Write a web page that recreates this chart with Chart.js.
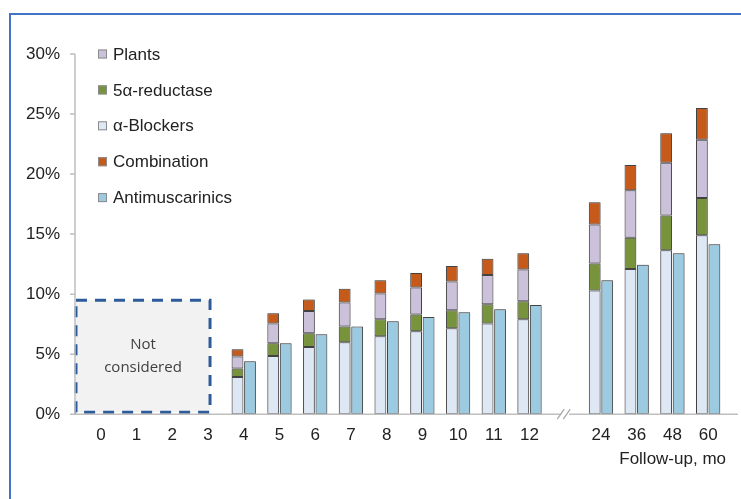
<!DOCTYPE html>
<html>
<head>
<meta charset="utf-8">
<script src="https://cdn.jsdelivr.net/npm/chart.js@4.4.1/dist/chart.umd.min.js"></script>
<style>
  body { margin: 0; background: #fff; overflow: hidden; }
  #frame { position: absolute; left: 9px; top: 13px; width: 800px; height: 600px;
           border-top: 2px solid #4472c4; border-left: 2px solid #4472c4; }
  #wrap { position: absolute; left: 0; top: 0; width: 741px; height: 499px; }
</style>
</head>
<body>
<div id="frame"></div>
<div id="wrap"><canvas id="chart"></canvas></div>
<script>
// follow-up months (empty slot = axis break)
const months = ['0','1','2','3','4','5','6','7','8','9','10','11','12','','24','36','48','60'];

// cumulative share per drug class, % (months 0-3 not considered)
const alphaBlockers   = [null,null,null,null,3.1,4.85,5.6,6.0,6.5,6.9,7.15,7.55,7.9,null,10.3,12.1,13.65,14.9];
const reductase       = [null,null,null,null,0.7,1.05,1.15,1.3,1.4,1.4,1.5,1.6,1.5,null,2.25,2.6,2.9,3.1];
const plants          = [null,null,null,null,1.0,1.65,1.85,2.0,2.15,2.25,2.4,2.45,2.65,null,3.25,3.95,4.4,4.85];
const combination     = [null,null,null,null,0.6,0.85,0.95,1.15,1.1,1.2,1.3,1.35,1.35,null,1.85,2.1,2.45,2.65];
const antimuscarinics = [null,null,null,null,4.4,5.9,6.65,7.3,7.75,8.1,8.5,8.75,9.1,null,11.15,12.45,13.4,14.15];

const yTicks = [0, 5, 10, 15, 20, 25, 30];

const FONT = '"Liberation Sans", Arial, sans-serif';
const legendOrder = [2, 1, 0, 3, 4];

const extras = {
    id: 'extras',
    beforeDatasetsDraw(chart) {
        const {ctx, scales: {x, y}} = chart;
        // "Not considered" box
        const l = chart.chartArea.left - 7, r = x.getPixelForValue(3) + 2;
        const t = y.getPixelForValue(9.5), b = y.getPixelForValue(0) - 2;
        ctx.save();
        ctx.fillStyle = '#f2f2f2';
        ctx.fillRect(l, t, r - l, b - t);
        ctx.setLineDash([11, 8]);
        ctx.lineWidth = 3;
        ctx.strokeStyle = '#2e5b9a';
        ctx.strokeRect(l, t, r - l, b - t);
        ctx.setLineDash([]);
        ctx.fillStyle = '#404040';
        ctx.font = '15px "Open Sans", sans-serif';
        ctx.textAlign = 'center';
        ctx.textBaseline = 'middle';
        const cx = (l + r) / 2, cy = (t + b) / 2;
        ctx.fillText('Not', cx, cy - 11);
        ctx.fillText('considered', cx, cy + 12);
        ctx.restore();

        // soft halo around bars
        ctx.save();
        ctx.shadowColor = 'rgba(0,0,0,0.35)';
        ctx.shadowBlur = 3;
    },
    afterDatasetsDraw(chart) {
        const {ctx, scales: {x, y}} = chart;
        ctx.restore();
        const ax = chart.chartArea.left - 8;
        const y0 = y.getPixelForValue(0);
        ctx.save();
        ctx.strokeStyle = '#bfbfbf';
        ctx.lineWidth = 1.5;
        ctx.beginPath();
        ctx.moveTo(ax, y.getPixelForValue(30));
        ctx.lineTo(ax, y0);
        yTicks.forEach(v => {
            const py = y.getPixelForValue(v);
            ctx.moveTo(ax - 5, py);
            ctx.lineTo(ax, py);
        });
        ctx.moveTo(ax - 5, y0);
        ctx.lineTo(chart.width - 3, y0);
        ctx.stroke();
        // axis break
        const bx = x.getPixelForValue(13);
        ctx.strokeStyle = '#ffffff';
        ctx.lineWidth = 4;
        ctx.beginPath();
        ctx.moveTo(bx - 4, y0); ctx.lineTo(bx + 4, y0);
        ctx.stroke();
        ctx.strokeStyle = '#a6a6a6';
        ctx.lineWidth = 1.2;
        ctx.beginPath();
        ctx.moveTo(bx - 8, y0 + 5); ctx.lineTo(bx - 1, y0 - 5);
        ctx.moveTo(bx - 2, y0 + 5); ctx.lineTo(bx + 5, y0 - 5);
        ctx.stroke();
        ctx.restore();
    },
    afterDraw(chart) {
        const {ctx} = chart;
        const lx = chart.chartArea.left + 15, ly = chart.chartArea.top;
        ctx.save();
        ctx.font = '17px ' + FONT;
        ctx.textBaseline = 'middle';
        legendOrder.forEach((di, i) => {
            const ds = chart.data.datasets[di];
            const cy = ly + i * 35.9;
            ctx.fillStyle = ds.backgroundColor;
            ctx.fillRect(lx, cy - 4.5, 9, 9);
            ctx.strokeStyle = '#8c8c8c';
            ctx.lineWidth = 1;
            ctx.strokeRect(lx + 0.5, cy - 4, 8, 8);
            ctx.fillStyle = '#222';
            ctx.fillText(ds.label, lx + 15, cy + 1);
        });
        ctx.restore();
    }
};

const barStyle = { borderColor: '#4a4a4a', borderWidth: 1, borderSkipped: false,
                   categoryPercentage: 0.7, barPercentage: 0.94 };

new Chart(document.getElementById('chart'), {
    type: 'bar',
    data: {
        labels: months,
        datasets: [
            { label: 'α-Blockers', data: alphaBlockers, backgroundColor: '#dde8f4', stack: 'drugs', ...barStyle },
            { label: '5α-reductase', data: reductase, backgroundColor: '#77933c', stack: 'drugs', ...barStyle },
            { label: 'Plants', data: plants, backgroundColor: '#ccc1da', stack: 'drugs', ...barStyle },
            { label: 'Combination', data: combination, backgroundColor: '#c55a1a', stack: 'drugs', ...barStyle },
            { label: 'Antimuscarinics', data: antimuscarinics, backgroundColor: '#9ccae0', stack: 'anti', ...barStyle }
        ]
    },
    options: {
        responsive: true,
        maintainAspectRatio: false,
        animation: false,
        layout: { padding: { left: 0, right: 15, top: 54, bottom: 29 } },
        plugins: { legend: { display: false }, tooltip: { enabled: false } },
        scales: {
            x: {
                stacked: true,
                grid: { display: false, drawTicks: false },
                border: { display: false },
                ticks: { color: '#222', font: { family: FONT, size: 17 }, padding: 11, maxRotation: 0, autoSkip: false },
                title: { display: true, text: 'Follow-up, mo', align: 'end', color: '#222',
                         font: { family: FONT, size: 17 }, padding: { top: -7, bottom: 0 } }
            },
            y: {
                stacked: true,
                min: 0, max: 30,
                afterFit(scale) { scale.width = 83; },
                afterBuildTicks(scale) { scale.ticks = yTicks.map(v => ({ value: v })); },
                grid: { display: false, drawTicks: false },
                border: { display: false },
                ticks: { color: '#222', font: { family: FONT, size: 17 }, padding: 23,
                         callback: v => v + '%' }
            }
        }
    },
    plugins: [extras]
});
</script>
</body>
</html>
